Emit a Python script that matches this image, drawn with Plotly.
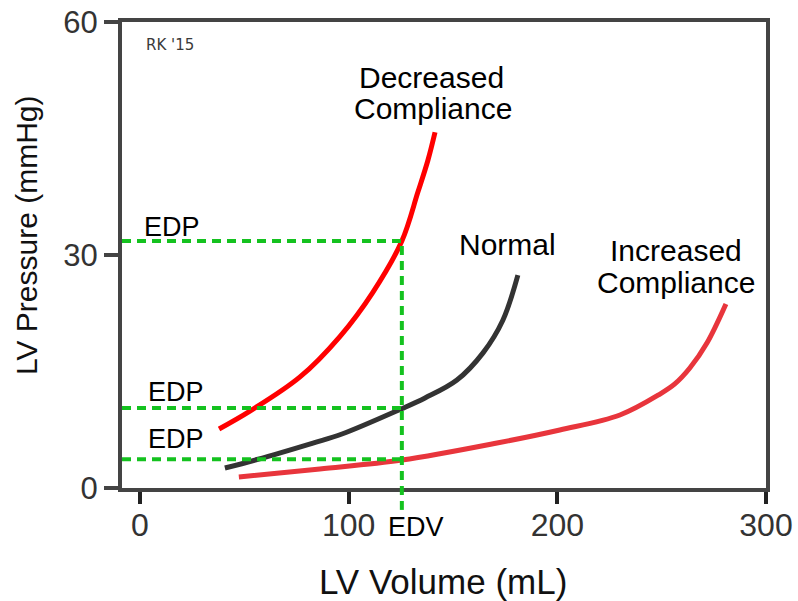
import plotly.graph_objects as go

# ---- data ----
decreased_vol = [37.9, 52.7, 76.7, 95.8, 111.6, 125.5, 133.2, 138.0, 141.4]
decreased_p = [7.6, 9.9, 14.3, 19.5, 25.2, 31.8, 38.1, 42.2, 45.8]

normal_vol = [40.7, 56.1, 82.9, 96.8, 125.1, 136.6, 151.9, 164.4, 173.9, 181.1]
normal_p = [2.57, 3.67, 5.79, 6.95, 10.17, 11.59, 13.9, 17.4, 21.6, 27.4]

increased_vol = [47.4, 86.2, 125.5, 171.1, 201.2, 230.0, 249.2, 256.3, 263.5, 271.7, 280.8]
increased_p = [1.42, 2.45, 3.6, 5.79, 7.47, 9.4, 12.1, 13.4, 15.45, 18.67, 23.7]

edv = 125.5
edp_values = [31.8, 10.3, 3.7]

x_ticks = [0, 100, 200, 300]
y_ticks = [0, 30, 60]

FONT = "Liberation Sans, Arial, sans-serif"
GREEN = "#14c21f"
X_MIN = -8.6
Y_MAX = 60

fig = go.Figure()
fig.add_trace(go.Scatter(x=decreased_vol, y=decreased_p, mode="lines",
                         line=dict(color="#ff0000", width=5, shape="spline"),
                         showlegend=False, hoverinfo="skip"))
fig.add_trace(go.Scatter(x=normal_vol, y=normal_p, mode="lines",
                         line=dict(color="#333333", width=5, shape="spline"),
                         showlegend=False, hoverinfo="skip"))
fig.add_trace(go.Scatter(x=increased_vol, y=increased_p, mode="lines",
                         line=dict(color="#e8353c", width=5, shape="spline"),
                         showlegend=False, hoverinfo="skip"))

shapes = []
for p in edp_values:
    shapes.append(dict(type="line", xref="x", yref="y", x0=X_MIN, x1=edv, y0=p, y1=p,
                       line=dict(color=GREEN, width=4, dash="9px,6px"), layer="above"))
shapes.append(dict(type="line", xref="x", yref="paper", x0=edv, x1=edv,
                   y0=-0.047, y1=max(edp_values) / Y_MAX,
                   line=dict(color=GREEN, width=4, dash="9px,6px"), layer="above"))

annotations = []
def label(text, x, y, size, color="#000000", family=FONT, xref="x", yref="y"):
    annotations.append(dict(text=text, x=x, y=y, xref=xref, yref=yref,
                            showarrow=False, xanchor="center", yanchor="middle",
                            font=dict(family=family, size=size, color=color)))

label("Decreased", 139.9, 52.9, 30)
label("Compliance", 140.4, 48.8, 30)
label("Normal", 176.3, 31.4, 30)
label("Increased", 256.8, 30.6, 30)
label("Compliance", 256.8, 26.4, 30)
label("EDP", 15.3, 33.6, 27)
label("EDP", 17.2, 12.3, 27)
label("EDP", 17.2, 6.3, 27)
label("EDV", edv + 6.7, -5.0 / Y_MAX, 27, yref="paper")
label("RK '15", 14.2, 57.0, 15, color="#3a3a3a", family="DejaVu Sans, sans-serif")
label("LV Volume (mL)", 0.498, -0.2, 35, color="#111111", xref="paper", yref="paper")
annotations.append(dict(text="LV Pressure (mmHg)", x=-0.1475, y=0.543, xref="paper", yref="paper",
                        showarrow=False, xanchor="center", yanchor="middle", textangle=-90,
                        font=dict(family=FONT, size=30, color="#111111")))

fig.update_layout(
    width=798, height=601,
    margin=dict(l=122, r=32, t=22, b=113, autoexpand=False),
    paper_bgcolor="white", plot_bgcolor="white",
    shapes=shapes, annotations=annotations,
    xaxis=dict(range=[X_MIN, 300], tickvals=x_ticks, ticktext=[str(v) for v in x_ticks],
               showgrid=False, zeroline=False, showline=True, linecolor="#444444",
               linewidth=4, mirror=True, ticks="outside", ticklen=12, tickwidth=4,
               tickcolor="#222222", ticklabeloverflow="allow", ticklabelstandoff=-6,
               automargin=False,
               tickfont=dict(family=FONT, size=32, color="#333333")),
    yaxis=dict(range=[0, Y_MAX], tickvals=y_ticks, ticktext=[str(v) for v in y_ticks],
               showgrid=False, zeroline=False, showline=True, linecolor="#444444",
               linewidth=4, mirror=True, ticks="outside", ticklen=14, tickwidth=4,
               tickcolor="#444444", ticklabeloverflow="allow", automargin=False,
               tickfont=dict(family=FONT, size=31, color="#333333")),
)

fig.write_html(
    "out.html",
    config={"displayModeBar": False, "staticPlot": True},
    post_script="document.body.style.margin='0';document.body.style.overflow='hidden';",
)
